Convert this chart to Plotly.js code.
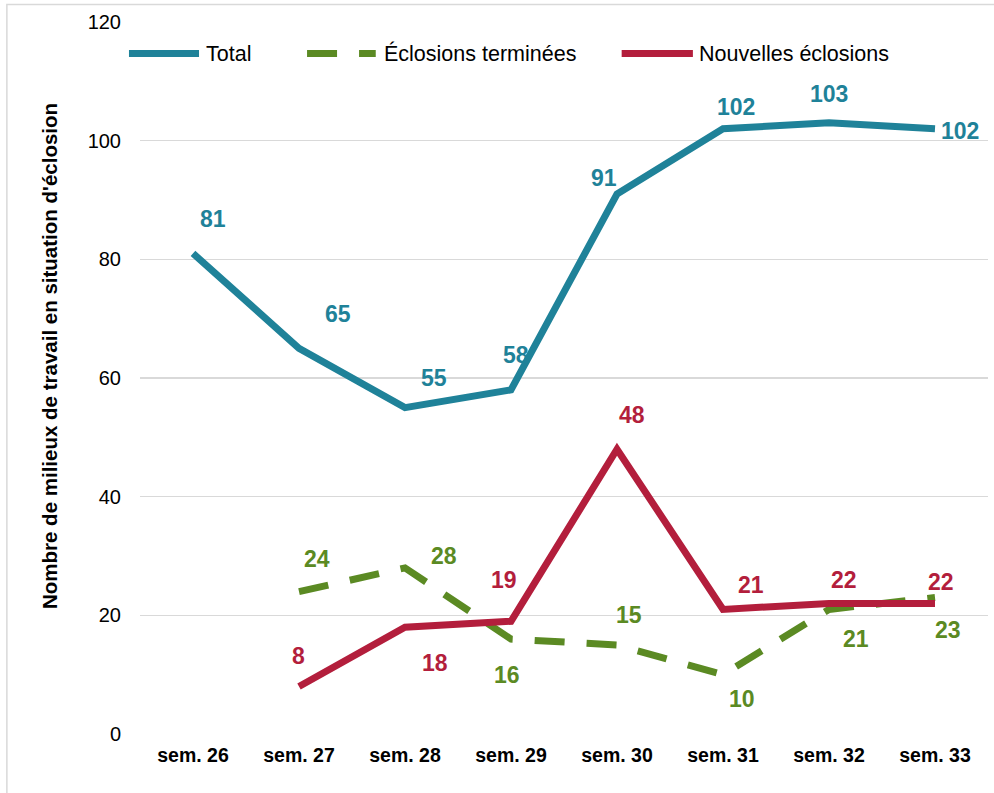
<!DOCTYPE html>
<html>
<head>
<meta charset="utf-8">
<script src="https://cdn.plot.ly/plotly-3.0.1.min.js"></script>
<style>
html,body{margin:0;padding:0;background:#fff;}
#chart{width:994px;height:793px;}
</style>
</head>
<body>
<div id="chart"></div>
<script>
const categories = ["sem. 26","sem. 27","sem. 28","sem. 29","sem. 30","sem. 31","sem. 32","sem. 33"];
const seriesNames = ["Total","Éclosions terminées","Nouvelles éclosions"];
const totalValues = [81,65,55,58,91,102,103,102];
const termineesValues = [null,24,28,16,15,10,21,23];
const nouvellesValues = [null,8,18,19,48,21,22,22];
const yTickValues = [0,20,40,60,80,100,120];
const yAxisTitle = "Nombre de milieux de travail en situation d'éclosion";

const colors = ["#1f8299","#5b8a23","#b31e3c"];
// label offsets (pixels) per point: [dx, dy] with dy positive upward
const totalOffsets = [[20,34],[39,34],[29,30],[5,35],[-13,16],[13,22],[0,29],[25,-2]];
const termineesOffsets = [null,[18,33],[39,12],[-4,-36],[12,30],[19,-24],[27,-30],[13,-32]];
const nouvellesOffsets = [null,[-1,31],[30,-36],[-7,41],[15,34],[28,24],[15,23],[6,21]];

const FONT = "'Liberation Sans', Arial, Helvetica, sans-serif";
const seriesValues = [totalValues, termineesValues, nouvellesValues];
const seriesOffsets = [totalOffsets, termineesOffsets, nouvellesOffsets];
const dashes = ["solid","30px,22px","solid"];

const traces = seriesValues.map((vals, i) => ({
  type: "scatter",
  mode: "lines",
  name: seriesNames[i],
  x: categories,
  y: vals,
  connectgaps: false,
  line: {color: colors[i], width: 7, dash: dashes[i]},
  hoverinfo: "x+y",
  showlegend: false
}));

const annotations = [];
seriesValues.forEach((vals, i) => {
  vals.forEach((v, j) => {
    if (v === null) return;
    const off = seriesOffsets[i][j];
    annotations.push({
      x: categories[j], y: v, xref: "x", yref: "y",
      text: String(v), showarrow: false,
      xshift: off[0], yshift: off[1],
      font: {family: FONT, size: 23, color: colors[i], weight: "bold"}
    });
  });
});

// y-axis title
annotations.push({
  xref: "paper", yref: "paper", x: -0.106, y: 0.531,
  xanchor: "center", yanchor: "middle",
  text: "<b>" + yAxisTitle + "</b>", textangle: -90, showarrow: false,
  font: {family: FONT, size: 20.5, color: "#000"}
});

// custom legend
const legendY = 0.9557;
const legendItems = [
  {x0: -0.013, x1: 0.0696, tx: 0.0755},
  {x0: 0.197, x1: 0.278, tx: 0.2854},
  {x0: 0.568, x1: 0.652, tx: 0.657}
];
const shapes = [];
legendItems.forEach((it, i) => {
  shapes.push({
    type: "line", xref: "paper", yref: "paper",
    x0: it.x0, x1: it.x1, y0: legendY, y1: legendY,
    line: {color: colors[i], width: 7, dash: dashes[i]}
  });
  annotations.push({
    xref: "paper", yref: "paper", x: it.tx, y: legendY,
    xanchor: "left", yanchor: "middle", text: seriesNames[i], showarrow: false,
    font: {family: FONT, size: 21.5, color: "#000"}
  });
});
// outer chart frame
shapes.push({
  type: "rect", xref: "paper", yref: "paper",
  x0: -0.157, x1: 1.05, y0: -0.1, y1: 1.0246,
  line: {color: "#d9d9d9", width: 1.5}, fillcolor: "rgba(0,0,0,0)", layer: "below"
});

const layout = {
  width: 994, height: 793,
  margin: {l: 140, r: 6, t: 22, b: 59},
  paper_bgcolor: "#fff", plot_bgcolor: "#fff",
  font: {family: FONT, color: "#000"},
  showlegend: false,
  xaxis: {
    type: "category", categoryorder: "array", categoryarray: categories,
    range: [-0.5, 7.5], showgrid: false, zeroline: false, showline: false,
    ticks: "", ticklabelstandoff: 7,
    tickfont: {family: FONT, size: 19.5, color: "#000", weight: "bold"}
  },
  yaxis: {
    range: [0, 120], tickvals: yTickValues, ticktext: yTickValues.map(String),
    showgrid: true, gridcolor: "#d9d9d9", gridwidth: 1.5,
    zeroline: false, showline: false, ticks: "", ticklabelstandoff: 18,
    tickfont: {family: FONT, size: 20, color: "#000"}
  },
  annotations: annotations,
  shapes: shapes
};

Plotly.newPlot("chart", traces, layout, {displayModeBar: false, staticPlot: true});
</script>
</body>
</html>
